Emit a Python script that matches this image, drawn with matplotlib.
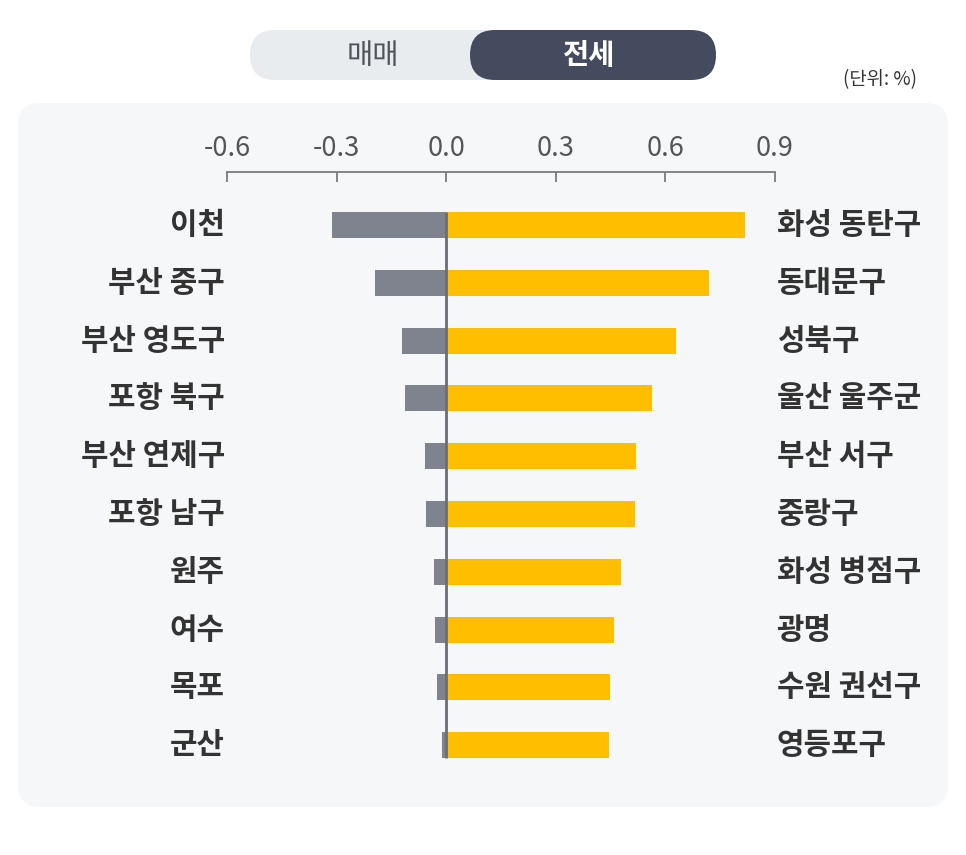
import matplotlib
matplotlib.use("Agg")
import matplotlib.pyplot as plt
from matplotlib.patches import FancyBboxPatch
import matplotlib.transforms as mtransforms

plt.rcParams['font.family'] = ['Noto Sans CJK KR', 'DejaVu Sans']

# ---- data ----
neg_regions = ["이천", "부산 중구", "부산 영도구", "포항 북구", "부산 연제구",
               "포항 남구", "원주", "여수", "목포", "군산"]
neg_values = [-0.313, -0.196, -0.122, -0.114, -0.058,
              -0.056, -0.034, -0.031, -0.024, -0.012]
pos_regions = ["화성 동탄구", "동대문구", "성북구", "울산 울주군", "부산 서구",
               "중랑구", "화성 병점구", "광명", "수원 권선구", "영등포구"]
pos_values = [0.817, 0.718, 0.628, 0.563, 0.520,
              0.517, 0.478, 0.460, 0.448, 0.446]
x_ticks = [-0.6, -0.3, 0.0, 0.3, 0.6, 0.9]
x_tick_labels = ["-0.6", "-0.3", "0.0", "0.3", "0.6", "0.9"]
tabs = ["매매", "전세"]
unit_label = "(단위: %)"

W, H = 966, 855
DPI = 100
fig = plt.figure(figsize=(W / DPI, H / DPI), dpi=DPI)
fig.patch.set_facecolor("white")

def px_box(x0, y0, x1, y1):
    """pixel coords (top-left origin) -> inches rect (bottom-left origin)"""
    return x0 / DPI, (H - y1) / DPI, (x1 - x0) / DPI, (y1 - y0) / DPI

# panel background
bx, by, bw, bh = px_box(18, 103, 948, 807)
fig.patches.append(FancyBboxPatch((bx, by), bw, bh,
                                  boxstyle="round,pad=0,rounding_size=0.22",
                                  transform=fig.dpi_scale_trans,
                                  facecolor="#f6f7f9", edgecolor="none", zorder=-2))

# toggle pill
tx, ty, tw, th = px_box(250, 30, 716, 80)
fig.patches.append(FancyBboxPatch((tx, ty), tw, th,
                                  boxstyle="round,pad=0,rounding_size=0.25",
                                  transform=fig.dpi_scale_trans,
                                  facecolor="#e9ecef", edgecolor="none", zorder=1))
dx, dy, dw, dh = px_box(470, 30, 716, 80)
fig.patches.append(FancyBboxPatch((dx, dy), dw, dh,
                                  boxstyle="round,pad=0,rounding_size=0.25",
                                  transform=fig.dpi_scale_trans,
                                  facecolor="#454b5e", edgecolor="none", zorder=2))
fig.text(373 / W, 1 - 56 / H, tabs[0], ha="center", va="center",
         fontsize=20.5, color="#4f545a", zorder=3)
fig.text(589 / W, 1 - 56 / H, tabs[1], ha="center", va="center",
         fontsize=20.5, color="white", fontweight="bold", zorder=3)
fig.text(917 / W, 1 - 80 / H, unit_label, ha="right", va="center",
         fontsize=13.5, color="#333333")

# main axes: x from -0.6..0.9 at px 227..775 ; top spine at y=172
ax_left, ax_right = 227, 775
ax_top, ax_bot = 172, 790
ax = fig.add_axes([ax_left / W, 1 - ax_bot / H, (ax_right - ax_left) / W,
                   (ax_bot - ax_top) / H])
ax.set_zorder(5)
ax.set_facecolor("none")

n = len(neg_values)
ys = list(range(n))
row_px = 57.8
center0 = 225
ax.set_xlim(x_ticks[0], x_ticks[-1])
ax.set_ylim((ax_bot - center0) / row_px, (ax_top - center0) / row_px)

bar_h = 0.45
ax.barh(ys, neg_values, height=bar_h, color="#7f838e", zorder=2)
ax.barh(ys, pos_values, height=bar_h, color="#ffbe00", zorder=2)
ax.vlines(0, -bar_h / 2, n - 1 + bar_h / 2, color="#6b6e75", linewidth=2.0, zorder=3)

for s in ["left", "right", "bottom"]:
    ax.spines[s].set_visible(False)
ax.spines["top"].set_color("#7a7a7a")
ax.spines["top"].set_linewidth(1.3)
ax.xaxis.tick_top()
ax.set_xticks(x_ticks)
ax.set_xticklabels(x_tick_labels)
ax.tick_params(axis="x", direction="in", length=7.5, width=1.3, color="#7a7a7a",
               labelsize=19.5, labelcolor="#555555", pad=7)
ax.set_yticks([])

tr = mtransforms.blended_transform_factory(ax.transAxes, ax.transData)
for y, name in zip(ys, neg_regions):
    ax.text(-0.004, y, name, transform=tr, ha="right", va="center",
            fontsize=21.5, color="#333333", fontweight="bold", clip_on=False)
for y, name in zip(ys, pos_regions):
    ax.text(1.003, y, name, transform=tr, ha="left", va="center",
            fontsize=21.5, color="#333333", fontweight="bold", clip_on=False)

fig.savefig("out.png", dpi=DPI)
